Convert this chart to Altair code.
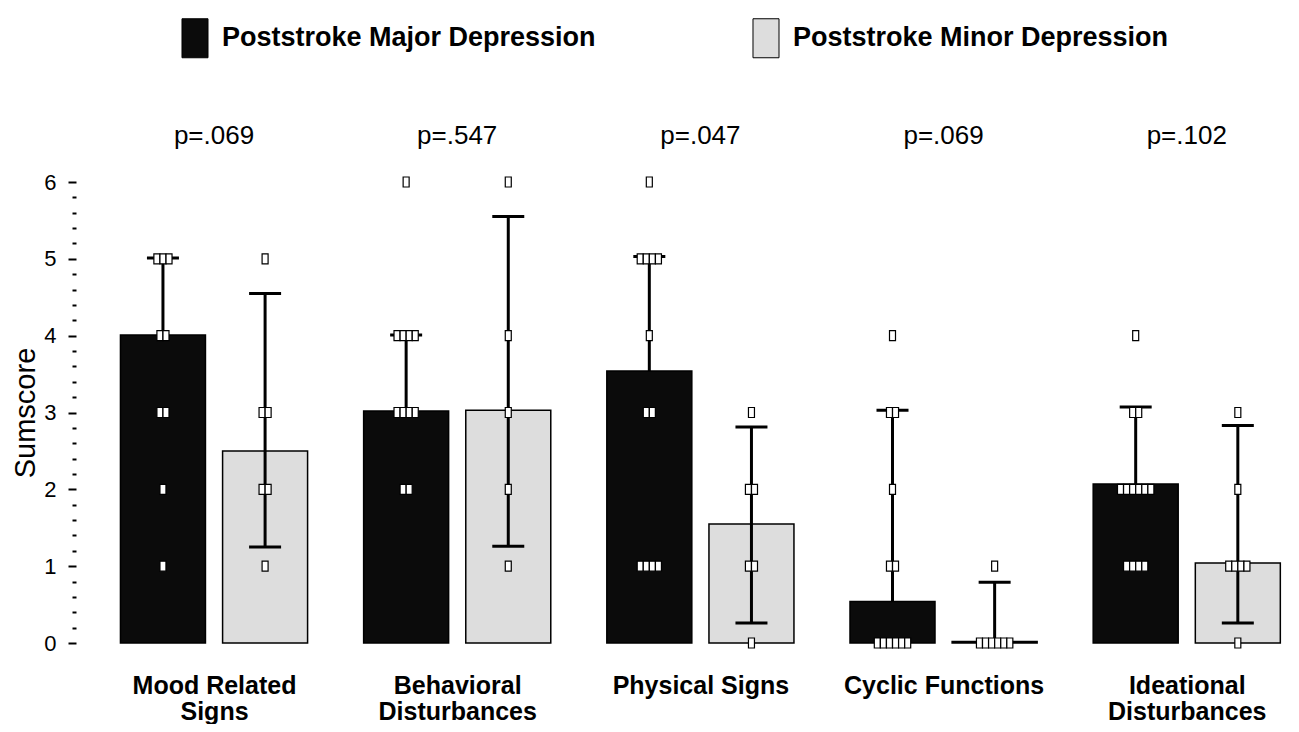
import altair as alt
import pandas as pd

# ---------------- data ----------------
categories = ["Mood Related Signs", "Behavioral Disturbances", "Physical Signs",
              "Cyclic Functions", "Ideational Disturbances"]
label_lines = ["Mood Related|Signs", "Behavioral|Disturbances", "Physical Signs",
               "Cyclic Functions", "Ideational|Disturbances"]
p_values = ["p=.069", "p=.547", "p=.047", "p=.069", "p=.102"]
groups = ["Poststroke Major Depression", "Poststroke Minor Depression"]

major_mean = [4.01, 3.02, 3.54, 0.54, 2.07]
major_upper = [5.01, 4.01, 5.03, 3.03, 3.07]
minor_mean = [2.50, 3.03, 1.55, 0.02, 1.04]
minor_lower = [1.25, 1.26, 0.26, 0.02, 0.26]
minor_upper = [4.55, 5.55, 2.81, 0.79, 2.83]

# individual scores: {score: number of patients}
major_dots = [
    {5: 3, 4: 2, 3: 2, 2: 1, 1: 1},
    {6: 1, 4: 4, 3: 4, 2: 2},
    {6: 1, 5: 4, 4: 1, 3: 2, 1: 4},
    {4: 1, 3: 2, 2: 1, 1: 2, 0: 6},
    {4: 1, 3: 2, 2: 6, 1: 4},
]
minor_dots = [
    {5: 1, 3: 2, 2: 2, 1: 1},
    {6: 1, 4: 1, 3: 1, 2: 1, 1: 1},
    {3: 1, 2: 2, 1: 2, 0: 1},
    {1: 1, 0: 6},
    {3: 1, 2: 1, 1: 4, 0: 1},
]

# ---------------- tables ----------------
GROUP_SHIFT = 0.21
DOT_STEP = 0.025

bar_rows, cap_rows, dot_rows = [], [], []
for i, c in enumerate(categories):
    specs = [
        (groups[0], i - GROUP_SHIFT, major_mean[i], major_mean[i], major_upper[i], major_dots[i]),
        (groups[1], i + GROUP_SHIFT, minor_mean[i], minor_lower[i], minor_upper[i], minor_dots[i]),
    ]
    for g, pos, m, lo, hi, dots in specs:
        bar_rows.append(dict(cat=c, group=g, pos=pos, mean=m, lo=lo, hi=hi))
        cap_rows.append(dict(pos=pos, mean=hi))
        if lo < m - 0.01:
            cap_rows.append(dict(pos=pos, mean=lo))
        for v, n in dots.items():
            for k in range(n):
                dot_rows.append(dict(pos=pos + (k - (n - 1) / 2) * DOT_STEP, mean=v))

bars_df = pd.DataFrame(bar_rows)
caps_df = pd.DataFrame(cap_rows)
dots_df = pd.DataFrame(dot_rows)
p_df = pd.DataFrame(dict(pos=list(range(len(categories))), p=p_values, mean=[6.6] * len(p_values)))

# ---------------- scales & axes ----------------
FONT = "Liberation Sans"
xs = alt.Scale(domain=[-0.547, 4.404], nice=False, zero=False)
ys = alt.Scale(domain=[0, 6], nice=False, zero=True)

lines_js = "[" + ",".join("'" + s + "'" for s in label_lines) + "]"
x_axis = alt.Axis(
    values=list(range(len(categories))),
    labelExpr="split(" + lines_js + "[datum.value], '|')",
    ticks=False, tickSize=0, domain=False, grid=False,
    labelFont=FONT, labelFontSize=25, labelFontWeight="bold", labelColor="black",
    labelPadding=30, labelBaseline="top", labelLineHeight=26,
    labelLimit=0, labelOverlap=False, labelFlush=False, title=None,
)

y_vals = [round(0.2 * k, 1) for k in range(31)]
int_test = "abs(datum.value - round(datum.value)) < 0.01"
y_axis = alt.Axis(
    values=y_vals, tickCount=40,
    labelExpr=int_test + " ? format(datum.value, 'd') : ''",
    tickSize={"condition": {"test": int_test, "value": 8}, "value": 4},
    tickWidth=2, tickColor="black", domain=False, grid=False,
    labelFont=FONT, labelFontSize=22, labelColor="black", labelPadding=12,
    labelOverlap=False, labelFlush=False,
    title="Sumscore", titleFont=FONT, titleFontSize=29, titleFontWeight="normal",
    titleColor="black", titlePadding=3,
)

legend = alt.Legend(
    orient="none", legendX=99, legendY=-164, direction="horizontal", columns=2,
    title=None, symbolType="M-0.667,-1H0.667V1H-0.667Z", symbolSize=1521,
    symbolStrokeColor="black", symbolStrokeWidth=1, symbolOpacity=1,
    labelFont=FONT, labelFontSize=27, labelFontWeight="bold", labelColor="black",
    labelOffset=7, labelLimit=0, columnPadding=150, padding=0,
)

# ---------------- layers ----------------
X = alt.X("pos:Q", scale=xs, axis=x_axis)
Y = alt.Y("mean:Q", scale=ys, axis=y_axis)

bars = alt.Chart(bars_df).mark_bar(size=85, stroke="black", strokeWidth=1.5, opacity=1).encode(
    x=X, y=Y,
    color=alt.Color("group:N", scale=alt.Scale(domain=groups, range=["#0b0b0b", "#dddddd"]),
                    legend=legend),
)

rules = alt.Chart(bars_df).mark_rule(strokeWidth=3, color="black").encode(
    x=X, y=alt.Y("lo:Q", scale=ys, axis=y_axis), y2="hi:Q"
)

caps = alt.Chart(caps_df).mark_tick(orient="horizontal", size=32, thickness=3,
                                    color="black", opacity=1).encode(x=X, y=Y)

dots = alt.Chart(dots_df).mark_point(
    shape="M-0.6,-1H0.6V1H-0.6Z", size=100, filled=True, fill="white",
    stroke="black", strokeWidth=1.2, opacity=1,
).encode(x=X, y=Y)

ptext = alt.Chart(p_df).mark_text(font=FONT, fontSize=26, color="black").encode(
    x=X, y=Y, text="p:N"
)

chart = alt.layer(bars, rules, caps, dots, ptext).properties(
    width=1214, height=461,
    autosize=alt.AutoSizeParams(type="none"),
    padding={"left": 68, "top": 174, "right": 1, "bottom": 81},
    background="white",
).configure_view(stroke=None)

chart.save("out.html", embed_options={"renderer": "svg", "actions": False})
